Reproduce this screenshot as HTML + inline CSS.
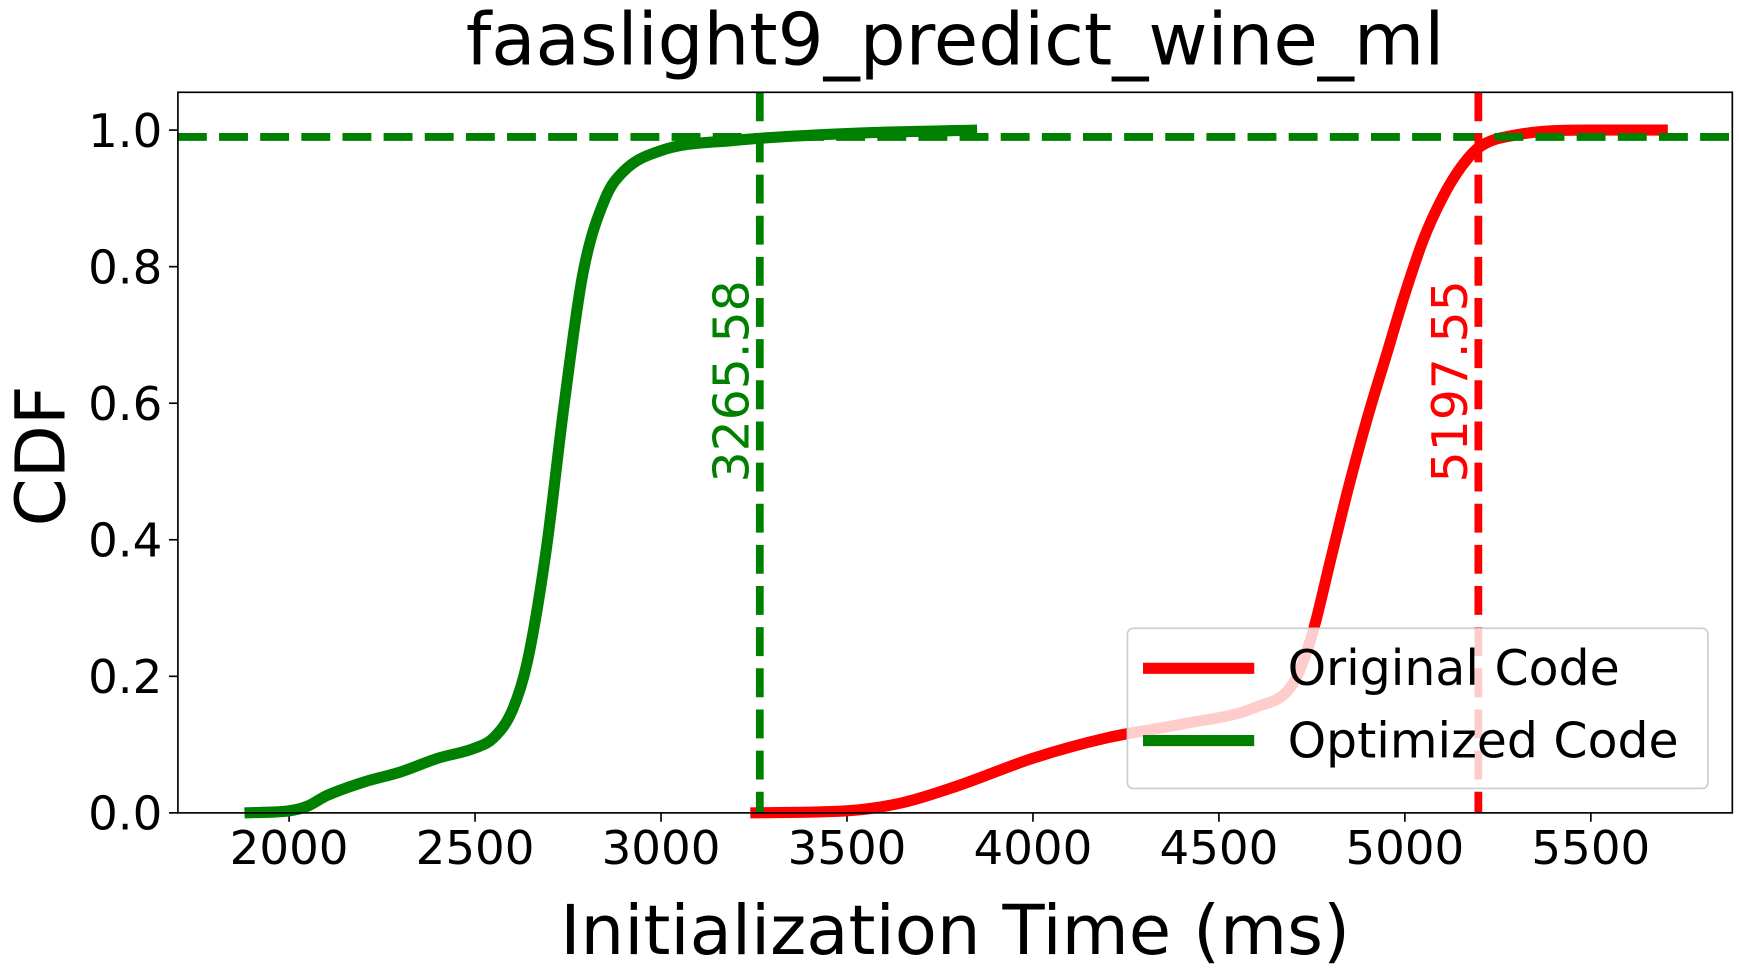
<!DOCTYPE html>
<html><head><meta charset="utf-8"><style>
html,body{margin:0;padding:0;background:#fff;}
svg{display:block;font-family:"DejaVu Sans","Liberation Sans",sans-serif;}
</style></head><body>
<svg id="chart" width="1739" height="973" viewBox="0 0 1564 875" preserveAspectRatio="none">
<text x="859" y="58" font-size="65" text-anchor="middle">faaslight9_predict_wine_ml</text>
<g id="plot"></g>
<text x="859" y="858" font-size="62" text-anchor="middle">Initialization Time (ms)</text>
<text transform="translate(58,410) rotate(-90)" font-size="62" text-anchor="middle">CDF</text>
</svg>
<script>
const xTicks=[2000,2500,3000,3500,4000,4500,5000,5500];
const yTicks=[0,0.2,0.4,0.6,0.8,1.0];
const greenX=[1880,2000,2050,2100,2200,2300,2400,2500,2550,2600,2640,2690,2740,2790,2850,2900,3000,3200,3500,3850];
const greenY=[0,0.003,0.01,0.025,0.045,0.06,0.08,0.095,0.11,0.15,0.22,0.38,0.6,0.79,0.9,0.94,0.97,0.985,0.995,1.0];
const redX=[3240,3500,3650,3800,4000,4200,4400,4600,4700,4750,4800,4850,4900,4950,5000,5050,5100,5150,5200,5300,5500,5707];
const redY=[0,0.003,0.015,0.04,0.08,0.11,0.13,0.155,0.19,0.26,0.37,0.48,0.58,0.67,0.76,0.84,0.9,0.945,0.975,0.993,1.0,1.0];
const p90Green=3265.58, p90Red=5197.55, hLine=0.99;
const L=160,R=1558,T=83,B=731;
const xs=v=>260+(v-2000)*0.3345;
const ys=v=>731-v*614;
const NS="http://www.w3.org/2000/svg";
const g=document.getElementById('plot');
function mk(tag,attrs,parent){const e=document.createElementNS(NS,tag);for(const k in attrs)e.setAttribute(k,attrs[k]);(parent||g).appendChild(e);return e;}
xTicks.forEach(t=>{
 const l=mk('line',{x1:xs(t),x2:xs(t),y1:B,y2:B+8,stroke:'#000','stroke-width':1.5});
 
 
 const tx=mk('text',{x:xs(t),y:B+46,'font-size':42,'text-anchor':'middle'});tx.textContent=t;
 
 
});
yTicks.forEach(t=>{
 const l=mk('line',{x1:L-8,x2:L,y1:ys(t),y2:ys(t),stroke:'#000','stroke-width':1.5});
 
 
 const tx=mk('text',{x:L-14,y:ys(t)+15,'font-size':42,'text-anchor':'end'});tx.textContent=t.toFixed(1);
 
 
});
function curve(X,Y,color,name){
 const n=X.length,px=X.map(xs),py=Y.map(ys);
 const dl=[],m=[];
 for(let i=0;i<n-1;i++)dl.push((py[i+1]-py[i])/(px[i+1]-px[i]));
 m[0]=dl[0];m[n-1]=dl[n-2];
 for(let i=1;i<n-1;i++)m[i]=(dl[i-1]*dl[i]<=0)?0:(dl[i-1]+dl[i])/2;
 for(let i=0;i<n-1;i++){if(dl[i]===0){m[i]=0;m[i+1]=0;continue;}const a=m[i]/dl[i],b=m[i+1]/dl[i],s=a*a+b*b;if(s>9){const t=3/Math.sqrt(s);m[i]=t*a*dl[i];m[i+1]=t*b*dl[i];}}
 let d='M'+px[0]+','+py[0];
 for(let i=0;i<n-1;i++){const h=(px[i+1]-px[i])/3;d+=` C${px[i]+h},${py[i]+m[i]*h} ${px[i+1]-h},${py[i+1]-m[i+1]*h} ${px[i+1]},${py[i+1]}`;}
 const p=mk('path',{d:d,fill:'none',stroke:color,'stroke-width':10,'stroke-linejoin':'round'});
 
 
}
curve(redX,redY,'#ff0000','original-code-line');
curve(greenX,greenY,'#008000','optimized-code-line');
let e=mk('line',{x1:L,x2:R,y1:ys(hLine),y2:ys(hLine),stroke:'#008000','stroke-width':7,'stroke-dasharray':'26,11'});


e=mk('line',{x1:xs(p90Green),x2:xs(p90Green),y1:T,y2:B,stroke:'#008000','stroke-width':7,'stroke-dasharray':'26,11'});


e=mk('line',{x1:xs(p90Red),x2:xs(p90Red),y1:T,y2:B,stroke:'#ff0000','stroke-width':7,'stroke-dasharray':'26,11'});


e=mk('text',{transform:`translate(${xs(p90Green)-10},343) rotate(-90)`,'font-size':44,fill:'#008000','text-anchor':'middle'});e.textContent=p90Green.toFixed(2);


e=mk('text',{transform:`translate(${xs(p90Red)-10},343) rotate(-90)`,'font-size':44,fill:'#ff0000','text-anchor':'middle'});e.textContent=p90Red.toFixed(2);


e=mk('rect',{x:L,y:T,width:R-L,height:B-T,fill:'none',stroke:'#000','stroke-width':1.5});


const lg=mk('g',{});


mk('rect',{x:1014,y:565,width:522,height:144,rx:5,fill:'rgba(255,255,255,0.8)',stroke:'#ccc','stroke-width':1.5},lg);
[['Original Code','#ff0000',601],['Optimized Code','#008000',666]].forEach(([n,c,y])=>{
 const l=mk('line',{x1:1028,x2:1128,y1:y,y2:y,stroke:c,'stroke-width':10},lg);
 
 
 const t=mk('text',{x:1158,y:y+15,'font-size':44},lg);t.textContent=n;
 
 
});
</script>
</body></html>
